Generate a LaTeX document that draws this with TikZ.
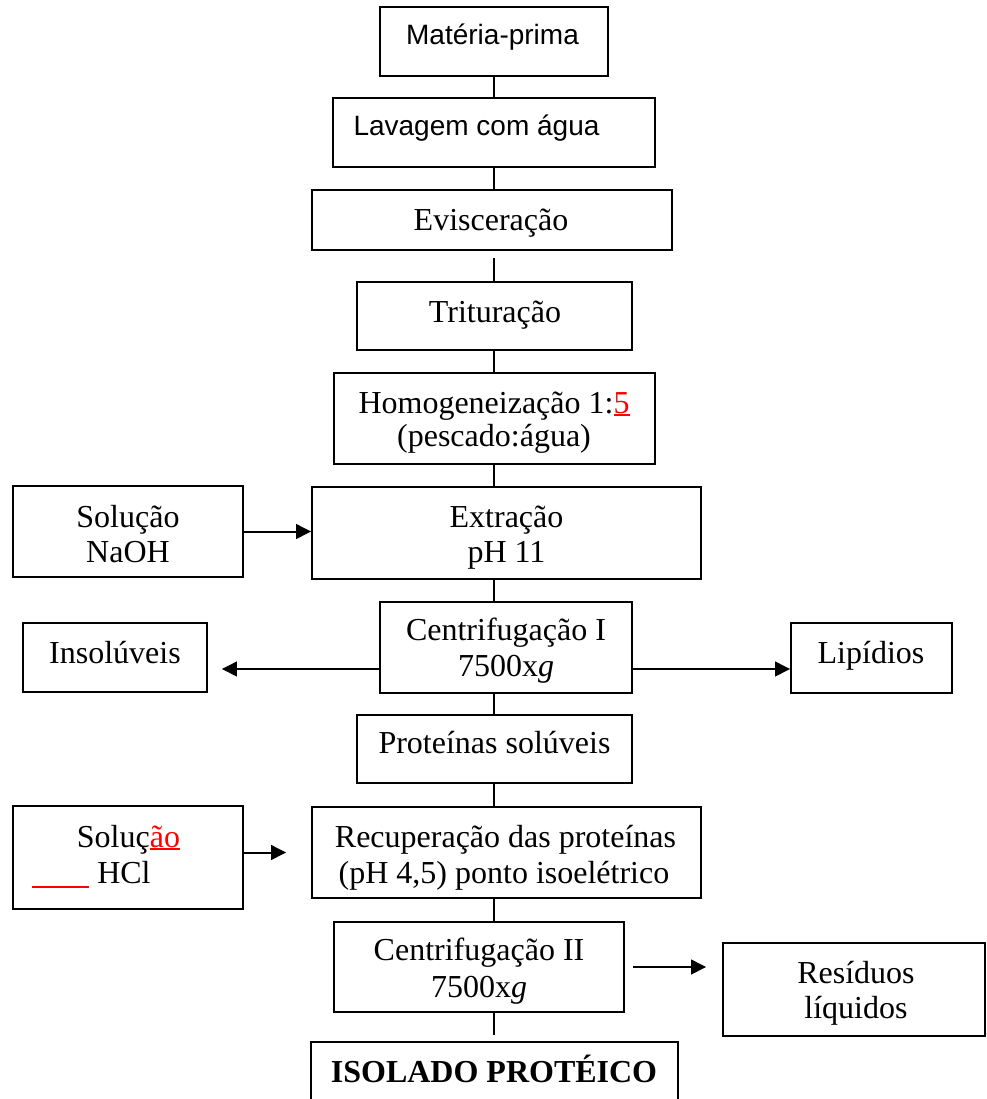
\documentclass[tikz,border=0pt]{standalone}
\usepackage{fontspec}
\setmainfont{Liberation Serif}
\newfontfamily\arialfont{Liberation Sans}
\usetikzlibrary{fit,arrows.meta}
\newcommand{\redul}[1]{\setbox0\hbox{#1}\rlap{\rule[-2.4pt]{\wd0}{1.3pt}}\box0}
\begin{document}
\begin{tikzpicture}[x=0.75pt,y=-0.75pt,
  box/.style={draw, line width=1.3pt, inner sep=0pt},
  conn/.style={line width=1pt},
  arr/.style={line width=1.5pt, -{Triangle[length=11.25pt,width=11pt]}},
  tx/.style={anchor=base, inner sep=0pt, font=\fontsize{24pt}{27pt}\selectfont},
  ax/.style={anchor=base, inner sep=0pt, font=\arialfont\fontsize{21pt}{24pt}\selectfont}]
\useasboundingbox (0,0) rectangle (987,1099);
\fill[white] (0,0) rectangle (987,1099);
\clip (0,0) rectangle (987,1099);
% boxes
\node[box, fit={(380,7) (608,76)}] (mp) {};
\node[box, fit={(333,98) (655,167)}] (lv) {};
\node[box, fit={(312,190) (672,250)}] (ev) {};
\node[box, fit={(357,282) (632,350)}] (tr) {};
\node[box, fit={(334,373) (655,464)}] (ho) {};
\node[box, fit={(13,486) (243,577)}] (na) {};
\node[box, fit={(312,487) (701,579)}] (ex) {};
\node[box, fit={(380,602) (632,693)}] (c1) {};
\node[box, fit={(23,623) (207,692)}] (ins) {};
\node[box, fit={(791,623) (952,693)}] (lip) {};
\node[box, fit={(357,715) (632,783)}] (ps) {};
\node[box, fit={(13,806) (243,909)}] (hcl) {};
\node[box, fit={(312,807) (701,898)}] (rec) {};
\node[box, fit={(334,922) (624,1012)}] (c2) {};
\node[box, fit={(723,943) (985,1036)}] (res) {};
\node[box, fit={(311,1042) (678,1106)}] (iso) {};
% texts
\node[ax] (tMP) at (492.5,45) {Matéria-prima};
\node[ax] (tLV) at (476.5,135) {Lavagem com água};
\node[tx] (tEV) at (491,230) {Evisceração};
\node[tx] (tTR) at (495,322) {Trituração};
\node[tx] (tHO1) at (494,413) {Homogeneização 1:\textcolor{red}{\redul{5}}};
\node[tx] (tHO2) at (494,446) {(pescado:água)};
\node[tx] (tNA1) at (128,527) {Solução};
\node[tx] (tNA2) at (128,562) {NaOH};
\node[tx] (tEX1) at (506.5,527) {Extração};
\node[tx] (tEX2) at (506.5,562) {pH 11};
\node[tx] (tC11) at (506,640) {Centrifugação I};
\node[tx] (tC12) at (506,676) {7500x\textit{g}};
\node[tx] (tIN) at (115,663) {Insolúveis};
\node[tx] (tLI) at (871,663) {Lipídios};
\node[tx] (tPS) at (494.5,753) {Proteínas solúveis};
\node[tx] (tHC1) at (128.5,847) {Soluç\textcolor{red}{\redul{ão}}};
\node[tx, anchor=base west] (tHC2) at (32,883) {\textcolor{red}{\rule[-3.7pt]{42.75pt}{1.4pt}} HCl};
\node[tx] (tRE1) at (505.5,847) {Recuperação das proteínas};
\node[tx] (tRE2) at (504,883) {(pH 4,5) ponto isoelétrico};
\node[tx] (tC21) at (479,960) {Centrifugação II};
\node[tx] (tC22) at (479,997) {7500x\textit{g}};
\node[tx] (tRS1) at (856,983) {Resíduos};
\node[tx] (tRS2) at (856,1018) {líquidos};
\node[tx, font=\bfseries\fontsize{24pt}{27pt}\selectfont] (tIS) at (494,1082) {ISOLADO PROTÉICO};
% connectors
\coordinate (col) at (494,0);
\coordinate (yI) at (0,669);
\draw[conn] (col |- mp.south) -- (col |- lv.north);
\draw[conn] (col |- lv.south) -- (col |- ev.north);
\draw[conn, shorten <=5.25pt] (col |- ev.south) -- (col |- tr.north);
\draw[conn] (col |- tr.south) -- (col |- ho.north);
\draw[conn] (col |- ho.south) -- (col |- ex.north);
\draw[conn] (col |- ex.south) -- (col |- c1.north);
\draw[conn] (col |- c1.south) -- (col |- ps.north);
\draw[conn] (col |- ps.south) -- (col |- rec.north);
\draw[conn] (col |- rec.south) -- (col |- c2.north);
\draw[conn, shorten >=4.5pt] (col |- c2.south) -- (col |- iso.north);
\draw[arr] (na.east) -- (na.east -| ex.west);
\draw[arr, shorten >=10.5pt] (c1.west |- yI) -- (ins.east |- yI);
\draw[arr] (c1.east |- yI) -- (lip.west |- yI);
\draw[arr, shorten >=18.75pt] (hcl.east |- rec.west) -- (rec.west);
\draw[arr, shorten <=6pt, shorten >=12pt] (c2.east) -- (c2.east -| res.west);
\end{tikzpicture}
\end{document}
